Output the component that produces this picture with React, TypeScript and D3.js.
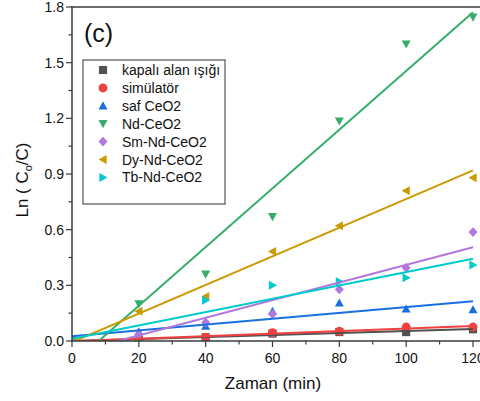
import React from "react";
import * as d3 from "d3";

const times = [0, 20, 40, 60, 80, 100, 120];

const seriesNames = [
  "kapalı alan ışığı",
  "simülatör",
  "saf CeO2",
  "Nd-CeO2",
  "Sm-Nd-CeO2",
  "Dy-Nd-CeO2",
  "Tb-Nd-CeO2",
];

const darkValues = [0, 0.005, 0.02, 0.04, 0.048, 0.048, 0.063];
const simValues = [0, 0.01, 0.02, 0.045, 0.052, 0.075, 0.075];
const pureValues = [0, 0.05, 0.08, 0.16, 0.205, 0.173, 0.169];
const ndValues = [0, 0.2, 0.36, 0.67, 1.185, 1.6, 1.745];
const smValues = [0, 0.036, 0.1, 0.145, 0.278, 0.395, 0.587];
const dyValues = [0, 0.16, 0.24, 0.483, 0.621, 0.81, 0.88];
const tbValues = [0, 0.0, 0.219, 0.3, 0.32, 0.341, 0.41];

const seriesValues = [darkValues, simValues, pureValues, ndValues, smValues, dyValues, tbValues];
const seriesColors = ["#515151", "#F14040", "#1A6FDF", "#37AD6B", "#B177DE", "#CC9900", "#00CBCC"];
const seriesShapes = ["square", "circle", "up", "down", "diamond", "left", "right"];

const xTicks = [0, 20, 40, 60, 80, 100, 120];
const yTicks = [0, 0.3, 0.6, 0.9, 1.2, 1.5, 1.8];

const FONT = "'Liberation Sans', Arial, sans-serif";

// least-squares linear fit through each series
function linearFit(xs: number[], ys: number[]) {
  const mx = d3.mean(xs) as number;
  const my = d3.mean(ys) as number;
  let sxy = 0;
  let sxx = 0;
  xs.forEach((x, i) => {
    sxy += (x - mx) * (ys[i] - my);
    sxx += (x - mx) * (x - mx);
  });
  const slope = sxy / sxx;
  return { slope, intercept: my - slope * mx };
}

function markerPath(shape: string, s: number): string {
  const h = s / 2;
  switch (shape) {
    case "square":
      return `M${-h * 0.9},${-h * 0.9}H${h * 0.9}V${h * 0.9}H${-h * 0.9}Z`;
    case "circle":
      return d3.symbol(d3.symbolCircle, Math.PI * h * h * 1.0)() as string;
    case "up":
      return `M0,${-h}L${h},${h * 0.8}L${-h},${h * 0.8}Z`;
    case "down":
      return `M0,${h}L${h},${-h * 0.8}L${-h},${-h * 0.8}Z`;
    case "left":
      return `M${-h},0L${h * 0.8},${-h}L${h * 0.8},${h}Z`;
    case "right":
      return `M${h},0L${-h * 0.8},${-h}L${-h * 0.8},${h}Z`;
    case "diamond":
      return `M0,${-h * 1.1}L${h},0L0,${h * 1.1}L${-h},0Z`;
    default:
      return "";
  }
}

export default function App() {
  const width = 480;
  const height = 401;
  const left = 72;
  const top = 7;
  const bottom = 341;
  const plotRight = 486;

  const x = d3.scaleLinear().domain([0, 120]).range([left, 473]);
  const y = d3.scaleLinear().domain([0, 1.8]).range([bottom, top]);

  const minorX = d3.range(10, 130, 20);
  const minorY = d3.range(0.15, 1.8, 0.3);

  const markerSize = 9;

  return (
    <svg
      width={width}
      height={height}
      style={{ position: "absolute", left: 0, top: 0, background: "#fff" }}
      fontFamily={FONT}
    >
      <defs>
        <clipPath id="plotArea">
          <rect x={left} y={top} width={plotRight - left} height={bottom - top} />
        </clipPath>
      </defs>
      <rect width={width} height={height} fill="#fff" />

      {/* scatter markers */}
      <g clipPath="url(#plotArea)">
        {seriesValues.map((vals, si) =>
          vals.map((v, i) => (
            <path
              key={`m${si}-${i}`}
              d={markerPath(seriesShapes[si], markerSize)}
              transform={`translate(${x(times[i])},${y(v)})`}
              fill={seriesColors[si]}
            />
          ))
        )}
      </g>

      {/* fitted lines */}
      <g clipPath="url(#plotArea)">
        {seriesValues.map((vals, si) => {
          const fit = linearFit(times, vals);
          const x0 = 0;
          const x1 = 120;
          return (
            <line
              key={`f${si}`}
              x1={x(x0)}
              y1={y(fit.intercept + fit.slope * x0)}
              x2={x(x1)}
              y2={y(fit.intercept + fit.slope * x1)}
              stroke={seriesColors[si]}
              strokeWidth={2}
            />
          );
        })}
      </g>

      {/* axes frame */}
      <g stroke="#3a3a3a" strokeWidth={1.5} fill="none">
        <line x1={left} y1={top} x2={left} y2={bottom + 0.75} />
        <line x1={left - 0.75} y1={bottom} x2={plotRight} y2={bottom} />
        <line x1={left - 0.75} y1={top} x2={plotRight} y2={top} />
      </g>

      {/* ticks */}
      <g stroke="#3a3a3a" strokeWidth={1.2}>
        {xTicks.map((t) => (
          <line key={`xt${t}`} x1={x(t)} x2={x(t)} y1={bottom} y2={bottom + 6} />
        ))}
        {minorX.map((t) => (
          <line key={`xm${t}`} x1={x(t)} x2={x(t)} y1={bottom} y2={bottom + 3.5} />
        ))}
        {yTicks.map((t) => (
          <line key={`yt${t}`} x1={left} x2={left - 6} y1={y(t)} y2={y(t)} />
        ))}
        {minorY.map((t) => (
          <line key={`ym${t}`} x1={left} x2={left - 3.5} y1={y(t)} y2={y(t)} />
        ))}
      </g>

      {/* tick labels */}
      <g fontSize={14} fill="#111">
        {xTicks.map((t) => (
          <text key={`xl${t}`} x={x(t)} y={bottom + 22} textAnchor="middle">
            {d3.format("d")(t)}
          </text>
        ))}
        {yTicks.map((t) => (
          <text key={`yl${t}`} x={left - 8} y={y(t) + 5} textAnchor="end">
            {d3.format(".1f")(t)}
          </text>
        ))}
      </g>

      {/* axis titles */}
      <text x={273} y={389} fontSize={17} textAnchor="middle" fill="#111">
        Zaman (min)
      </text>
      <text
        transform={`translate(28,180) rotate(-90)`}
        fontSize={17}
        textAnchor="middle"
        fill="#111"
      >
        {"Ln ( C"}
        <tspan fontSize={11} dy={4}>o</tspan>
        <tspan dy={-4}>/C)</tspan>
      </text>

      {/* panel label */}
      <text x={84} y={42} fontSize={25} fill="#111">
        (c)
      </text>

      {/* legend */}
      <g>
        <rect x={83} y={60} width={142} height={144} fill="#fff" stroke="#333" strokeWidth={1} />
        {seriesNames.map((name, i) => {
          const ly = 70 + i * 17.9;
          return (
            <g key={`lg${i}`}>
              <path
                d={markerPath(seriesShapes[i], markerSize)}
                transform={`translate(103,${ly})`}
                fill={seriesColors[i]}
              />
              <text x={122} y={ly + 5} fontSize={14} fill="#111">
                {name}
              </text>
            </g>
          );
        })}
      </g>
    </svg>
  );
}
